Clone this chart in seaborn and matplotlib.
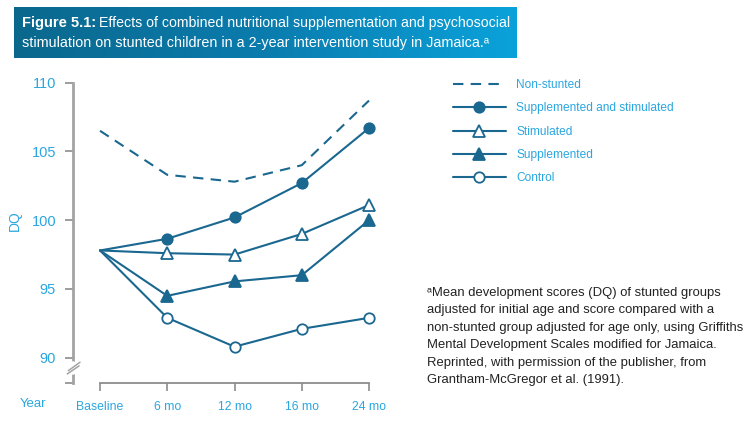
import numpy as np
import pandas as pd
import seaborn as sns
import matplotlib.pyplot as plt
from matplotlib.colors import LinearSegmentedColormap

# data
timepoints = ["Baseline", "6 mo", "12 mo", "16 mo", "24 mo"]
non_stunted = [106.5, 103.3, 102.8, 104.0, 108.7]
supp_stim = [97.8, 98.65, 100.2, 102.7, 106.7]
stimulated = [97.8, 97.6, 97.5, 99.0, 101.1]
supplemented = [97.8, 94.5, 95.55, 96.0, 100.0]
control = [97.8, 92.9, 90.8, 92.1, 92.9]

groups = ["Non-stunted", "Supplemented and stimulated", "Stimulated",
          "Supplemented", "Control"]
series = [non_stunted, supp_stim, stimulated, supplemented, control]

rows = []
for g, vals in zip(groups, series):
    for i, v in enumerate(vals):
        rows.append({"group": g, "pos": i, "dq": v})
df = pd.DataFrame(rows)

sns.set_style("white")
plt.rcParams['font.family'] = ['Liberation Sans', 'DejaVu Sans']

LINE = "#1a6790"
TXT = "#2aa6e0"
GREY = "#a3a3a3"

styles = {
    "Non-stunted": dict(marker=None, mfc=LINE, ls=(0, (5, 3.5)), ms=0),
    "Supplemented and stimulated": dict(marker="o", mfc=LINE, ls="-", ms=7.5),
    "Stimulated": dict(marker="^", mfc="white", ls="-", ms=9),
    "Supplemented": dict(marker="^", mfc=LINE, ls="-", ms=9),
    "Control": dict(marker="o", mfc="white", ls="-", ms=7.5),
}

fig = plt.figure(figsize=(7.56, 4.24), dpi=100)
ax = fig.add_axes([0.0962, 0.096, 0.4008, 0.709])

handles = []
for g in groups:
    st = styles[g]
    sns.lineplot(data=df[df.group == g], x="pos", y="dq", ax=ax,
                 color=LINE, linewidth=1.5, linestyle=st["ls"],
                 marker=st["marker"], markersize=st["ms"],
                 markerfacecolor=st["mfc"], markeredgecolor=LINE,
                 markeredgewidth=1.3, clip_on=False, zorder=3)
    handles.append(ax.get_lines()[-1])

# shared baseline point has no marker
for h in handles[1:]:
    h.set_markevery([1, 2, 3, 4])

ax.set_xlim(-0.406, 4.1)
ax.set_ylim(88.14, 110)
ax.set_xticks(range(len(timepoints)))
ax.set_xticklabels(timepoints)
ax.set_yticks([90, 95, 100, 105, 110])
ax.set_yticks([88.14], minor=True)
ax.set_xlabel("")
ax.set_ylabel("DQ", color=TXT, fontsize=10)
ax.yaxis.set_label_coords(-0.167, 0.54)

for s in ["top", "right"]:
    ax.spines[s].set_visible(False)
ax.spines["left"].set_color(GREY)
ax.spines["left"].set_linewidth(2)
ax.spines["bottom"].set_color("#8c8c8c")
ax.spines["bottom"].set_linewidth(1.3)
ax.spines["bottom"].set_bounds(0, 4)

ax.tick_params(axis="y", which="both", direction="out", length=6, width=1.2,
               color="#8c8c8c", labelcolor=TXT, labelsize=10.5, pad=6, left=True)
ax.tick_params(axis="x", direction="out", length=6, width=1.2,
               color="#8c8c8c", labelcolor=TXT, labelsize=8.8, pad=7, bottom=True)

# axis break marks
ax.plot([0, 0], [0.037, 0.063], color="white", lw=4, transform=ax.transAxes,
        clip_on=False, zorder=4)
ax.plot([-0.0145, 0.024], [0.042, 0.070], color=GREY, lw=1.1,
        transform=ax.transAxes, clip_on=False, zorder=5)
ax.plot([-0.018, 0.021], [0.031, 0.058], color=GREY, lw=1.1,
        transform=ax.transAxes, clip_on=False, zorder=5)

fig.text(20 / 756, 1 - 404 / 424, "Year", color=TXT, fontsize=9.5,
         ha="left", va="center")

# legend
fig.legend(handles, groups, loc="upper left",
           bbox_to_anchor=(453 / 756, 1 - 79 / 424), frameon=False,
           fontsize=8.6, labelcolor=TXT, handlelength=4.4, handletextpad=0.9,
           labelspacing=0.95, borderpad=0, borderaxespad=0)

# footnote
note = ("ᵃMean development scores (DQ) of stunted groups\n"
        "adjusted for initial age and score compared with a\n"
        "non-stunted group adjusted for age only, using Griffiths\n"
        "Mental Development Scales modified for Jamaica.\n"
        "Reprinted, with permission of the publisher, from\n"
        "Grantham-McGregor et al. (1991).")
fig.text(427 / 756, 1 - 287 / 424, note, color="#222222", fontsize=9.4,
         ha="left", va="top", linespacing=1.6)

# title banner with gradient
bax = fig.add_axes([14 / 756, 1 - 58 / 424, (517 - 14) / 756, (58 - 7) / 424])
cmap = LinearSegmentedColormap.from_list("banner", ["#0b688d", "#0a7cae", "#0ba2da"])
bax.imshow(np.linspace(0, 1, 256).reshape(1, -1), aspect="auto", cmap=cmap,
           extent=[0, 1, 0, 1])
bax.set_axis_off()

t1 = fig.text(22 / 756, 1 - 23 / 424, "Figure 5.1:", color="white",
              fontsize=10.5, fontweight="bold", ha="left", va="center")
fig.canvas.draw()
bb = t1.get_window_extent()
fig.text((bb.x1 + 3) / 756, 1 - 23 / 424,
         "Effects of combined nutritional supplementation and psychosocial",
         color="white", fontsize=10.2, ha="left", va="center")
fig.text(22 / 756, 1 - 43 / 424,
         "stimulation on stunted children in a 2-year intervention study in Jamaica.ᵃ",
         color="white", fontsize=10.4, ha="left", va="center")

fig.savefig("out.png", dpi=100, facecolor="white")
